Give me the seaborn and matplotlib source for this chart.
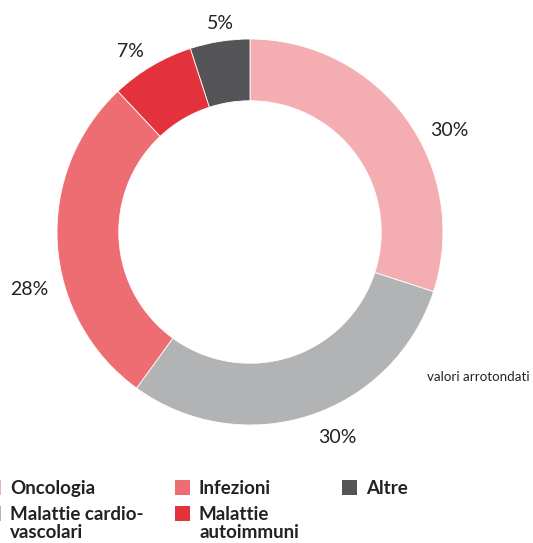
import seaborn as sns
import matplotlib.pyplot as plt
from matplotlib.patches import Rectangle
import numpy as np

sns.set_style("white")
plt.rcParams['font.family'] = ['Lato', 'DejaVu Sans']

# ----------- Data -----------
categories = ["Oncologia", "Malattie cardio-\nvascolari", "Infezioni", "Malattie\nautoimmuni", "Altre"]
shares = [30, 30, 28, 7, 5]
pct_labels = ["30%", "30%", "28%", "7%", "5%"]
colors = ["#F4AEB1", "#B2B3B5", "#EE6D72", "#E3323B", "#545456"]

# label placement tweaks: angle nudge (deg, clockwise) and radius
label_shift = [9, -5, -11, -3, 1]
label_r = [1.16, 1.155, 1.18, 1.12, 1.09]

W, H = 533, 543
fig = plt.figure(figsize=(W / 100, H / 100), dpi=100)
ax = fig.add_axes([(250 - 193) / W, (H - 232 - 193) / H, 386 / W, 386 / H])

wedges, _ = ax.pie(shares, colors=colors, startangle=90, counterclock=False,
                   radius=1, wedgeprops=dict(width=0.32, edgecolor="white", linewidth=0.6))
ax.set_xlim(-1, 1)
ax.set_ylim(-1, 1)
ax.set_aspect("equal")
ax.axis("off")

# percentage labels outside the ring
for w, lab, sh, r in zip(wedges, pct_labels, label_shift, label_r):
    mid = np.radians((w.theta1 + w.theta2) / 2 - sh)
    ax.text(r * np.cos(mid), r * np.sin(mid), lab, ha="center", va="center",
            fontsize=14, color="#222222", clip_on=False)

fig.text(427 / W, (H - 377) / H, "valori arrotondati", fontsize=9.6,
         color="#222222", va="center", ha="left")

# ----------- Legend (drawn by hand, three columns) -----------
col_x = [-14, 175, 342]          # square left edge, px
rows_top = [480, 506]            # square top edge, px
sq = 15
positions = [(0, 0), (0, 1), (1, 0), (1, 1), (2, 0)]
for (c, r), lab, col in zip(positions, categories, colors):
    x0, y0 = col_x[c], rows_top[r]
    fig.add_artist(Rectangle((x0 / W, (H - y0 - sq) / H), sq / W, sq / H,
                             transform=fig.transFigure, facecolor=col, edgecolor="none"))
    base = y0 + 14
    for i, line in enumerate(lab.split("\n")):
        fig.text((x0 + sq + 9) / W, (H - base - 18 * i) / H, line, fontsize=13.5,
                 weight="bold", color="#222222", va="baseline", ha="left")

fig.savefig("out.png", dpi=100)
